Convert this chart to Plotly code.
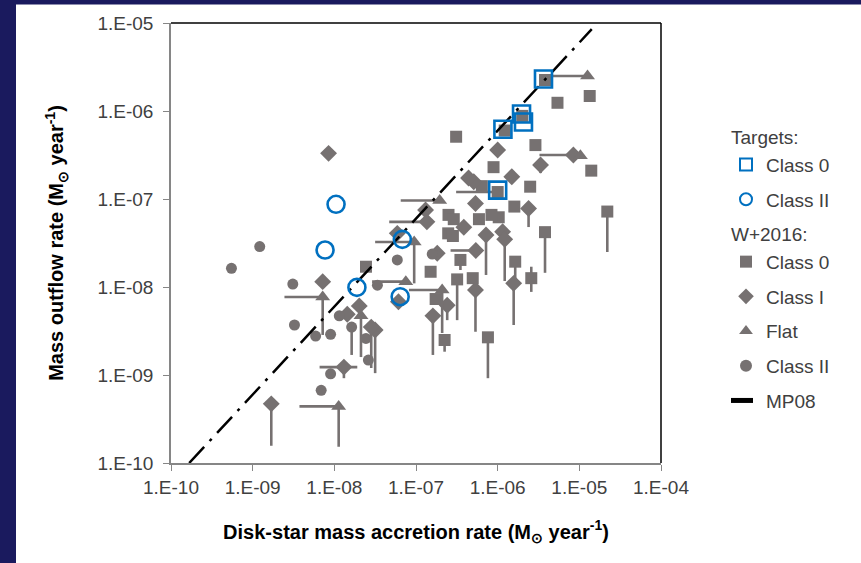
import plotly.graph_objects as go

GREY = "#767171"
BLUE = "#0070C0"
NAVY = "#1a1a5e"
FONT = "Liberation Sans, Arial, sans-serif"

# ---------------- data ----------------
tick_vals_x = [1e-10, 1e-9, 1e-8, 1e-7, 1e-6, 1e-5, 1e-4]
tick_text_x = ["1.E-10", "1.E-09", "1.E-08", "1.E-07", "1.E-06", "1.E-05", "1.E-04"]
tick_vals_y = [1e-10, 1e-9, 1e-8, 1e-7, 1e-6, 1e-5]
tick_text_y = ["1.E-10", "1.E-09", "1.E-08", "1.E-07", "1.E-06", "1.E-05"]

# Targets
tgt_c0_x = [3.64e-6, 1.96e-6, 2.07e-6, 1.16e-6, 1.0e-6]
tgt_c0_y = [2.31e-6, 9.25e-7, 7.5e-7, 6.2e-7, 1.26e-7]
tgt_c2_x = [1.05e-8, 7.7e-9, 1.89e-8, 6.8e-8, 6.4e-8]
tgt_c2_y = [8.7e-8, 2.63e-8, 9.9e-9, 3.48e-8, 7.76e-9]

# W+2016 Class 0
w_c0_x = [3.8e-6, 1.34e-5, 5.4e-6, 2.0e-6, 1.22e-6, 3.1e-7, 2.9e-6, 1.4e-5, 8.9e-7, 2.5e-6,
          1.0e-6, 1.6e-6, 2.2e-5, 1.03e-6, 8.4e-7, 5.9e-7, 2.5e-7, 2.9e-7, 2.48e-7, 2.83e-7,
          3.8e-6, 1.64e-6, 2.58e-6, 3.5e-7, 1.51e-7, 3.19e-7, 4.95e-7, 1.74e-7, 2.24e-7, 7.6e-7,
          2.44e-8, 6.4e-7]
w_c0_y = [2.25e-6, 1.48e-6, 1.24e-6, 8.8e-7, 6.0e-7, 5.1e-7, 4.1e-7, 2.1e-7, 2.3e-7, 1.38e-7,
          1.2e-7, 8.2e-8, 7.2e-8, 6.2e-8, 6.6e-8, 5.9e-8, 6.6e-8, 5.9e-8, 4.07e-8, 3.8e-8,
          4.2e-8, 1.94e-8, 1.26e-8, 2.03e-8, 1.49e-8, 1.22e-8, 1.26e-8, 7.3e-9, 2.5e-9, 2.68e-9,
          1.7e-8, 1.4e-7]
w_c0_xlow = [None] * 10 + [3.1e-7] + [None] * 21
w_c0_ylow = [None, None, None, None, None, None, None, None, None, None,
             None, None, 2.5e-8, None, None, None, None, None, None, None,
             1.45e-8, 1.1e-8, 8.8e-9, 1.56e-8, None, 4.2e-9, None, None, 1.84e-9, 9.2e-10,
             None, None]
w_c0_yhigh = [None] * 22 + [1.7e-8] + [None] * 9

# W+2016 Class I
w_c1_x = [8.5e-9, 1.0e-6, 8.45e-6, 3.35e-6, 1.49e-6, 5.1e-7, 4.4e-7, 2.39e-6, 5.35e-7, 1.31e-7,
          1.36e-7, 3.85e-7, 1.15e-6, 1.22e-6, 7.2e-7, 5.4e-7, 1.82e-7, 1.57e-6, 5.35e-7, 2.41e-7,
          1.61e-7, 5.9e-8, 6.1e-8, 7.2e-9, 2.02e-8, 1.44e-8, 3.16e-8, 2.83e-8, 1.31e-8, 1.69e-9]
w_c1_y = [3.3e-7, 3.6e-7, 3.16e-7, 2.43e-7, 1.79e-7, 1.57e-7, 1.73e-7, 7.8e-8, 8.9e-8, 7.5e-8,
          5.5e-8, 4.77e-8, 4.25e-8, 3.48e-8, 3.9e-8, 2.6e-8, 2.42e-8, 1.1e-8, 9.25e-9, 6.2e-9,
          4.7e-9, 4.07e-8, 6.8e-9, 1.15e-8, 6.1e-9, 4.9e-9, 3.25e-9, 3.5e-9, 1.23e-9, 4.7e-10]
w_c1_xlow = [None, None, 3.25e-6, None, None, None, None, None, None, None,
             4.7e-8, None, None, None, None, 2.65e-7, None, None, None, None,
             None, None, None, None, None, None, None, None, 6.6e-9, None]
w_c1_xhigh = [None] * 28 + [1.91e-8, None]
w_c1_ylow = [None, None, None, 1.97e-7, None, None, None, 4.8e-8, None, None,
             None, None, None, 1.17e-8, 1.37e-8, None, None, 3.7e-9, 3.1e-9, 4.2e-9,
             1.69e-9, None, None, None, None, None, 1.05e-9, 1.2e-9, 9.2e-10, 1.57e-10]

# W+2016 Flat
w_fl_x = [1.26e-5, 1.03e-5, 1.95e-7, 9.5e-8, 7.5e-8, 2.09e-7, 7.2e-9, 2.12e-8, 1.13e-8]
w_fl_y = [2.5e-6, 3.1e-7, 9.6e-8, 3.25e-8, 1.15e-8, 9.25e-9, 7.7e-9, 4.7e-9, 4.4e-10]
w_fl_xlow = [4.6e-6, None, 6.5e-8, 3.16e-8, 2.9e-8, 8.2e-8, 2.45e-9, None, 3.74e-9]
w_fl_ylow = [None, None, None, 1.1e-8, None, 3.0e-9, 2.85e-9, 1.6e-9, 1.53e-10]

# W+2016 Class II
w_c2_x = [5.5e-10, 1.22e-9, 3.1e-9, 5.9e-8, 3.37e-8, 3.25e-9, 5.9e-9, 9.0e-9, 1.63e-8, 2.44e-8,
          2.61e-8, 9.0e-9, 6.9e-9, 1.15e-8, 1.58e-7]
w_c2_y = [1.63e-8, 2.88e-8, 1.08e-8, 2.03e-8, 1.05e-8, 3.7e-9, 2.77e-9, 2.9e-9, 3.5e-9, 2.6e-9,
          1.48e-9, 1.03e-9, 6.7e-10, 4.7e-9, 2.37e-8]
w_c2_ylow = [None] * 8 + [1.69e-9] + [None] * 6

# MP08 relation
mp08_x = [1.67e-10, 1.42e-5]
mp08_y = [1.0e-10, 8.5e-6]


def diff_minus(vals, lows):
    return [v - l if l is not None else 0 for v, l in zip(vals, lows)]


def diff_plus(vals, highs):
    return [h - v if h is not None else 0 for v, h in zip(vals, highs)]


def err(plus, minus):
    return dict(type="data", symmetric=False, array=plus, arrayminus=minus,
                color=GREY, thickness=2.6, width=0, visible=True)


fig = go.Figure()

none = lambda n: [None] * n

grey_series = [
    ("Class 0", "square", 12, w_c0_x, w_c0_y, w_c0_xlow, none(len(w_c0_x)), w_c0_ylow, w_c0_yhigh, "w0", "W+2016:", 4),
    ("Class I", "diamond", 13, w_c1_x, w_c1_y, w_c1_xlow, w_c1_xhigh, w_c1_ylow, none(len(w_c1_x)), "w1", None, 5),
    ("Flat", "triangle-up", 13, w_fl_x, w_fl_y, w_fl_xlow, none(len(w_fl_x)), w_fl_ylow, none(len(w_fl_x)), "w2", None, 6),
    ("Class II", "circle", 11, w_c2_x, w_c2_y, none(len(w_c2_x)), none(len(w_c2_x)), w_c2_ylow, none(len(w_c2_x)), "w3", None, 7),
]

for name, sym, size, xs, ys, xlo, xhi, ylo, yhi, grp, title, rank in grey_series:
    tr = go.Scatter(
        x=xs, y=ys, mode="markers", name=name,
        marker=dict(symbol=sym, size=size, color=GREY),
        error_x=err(diff_plus(xs, xhi), diff_minus(xs, xlo)),
        error_y=err(diff_plus(ys, yhi), diff_minus(ys, ylo)),
        legendgroup=grp, legendrank=rank,
    )
    if title:
        tr.legendgrouptitle = dict(text=title)
    fig.add_trace(tr)

fig.add_trace(go.Scatter(
    x=mp08_x, y=mp08_y, mode="lines", name="MP08",
    line=dict(color="black", width=2.5, dash="22px,8px,3px,8px"),
    legendgroup="mp", legendrank=8,
))

fig.add_trace(go.Scatter(
    x=tgt_c0_x, y=tgt_c0_y, mode="markers", name="Class 0",
    marker=dict(symbol="square-open", size=17, color=BLUE, line=dict(width=2.6, color=BLUE)),
    legendgroup="t0", legendgrouptitle=dict(text="Targets:"), legendrank=1,
))
fig.add_trace(go.Scatter(
    x=tgt_c2_x, y=tgt_c2_y, mode="markers", name="Class II",
    marker=dict(symbol="circle-open", size=17, color=BLUE, line=dict(width=2.6, color=BLUE)),
    legendgroup="t2", legendrank=2,
))

# plot area in pixels: x 171..661, y 23..463
L, R, T, B = 171, 661, 23, 463
W, H = 861, 563


def px_x(p):
    return (p - L) / (R - L)


def px_y(p):
    return (B - p) / (B - T)


shapes = [
    # navy frame (left and top strips)
    dict(type="rect", xref="paper", yref="paper", x0=px_x(0), x1=px_x(16), y0=px_y(W), y1=px_y(0),
         fillcolor=NAVY, line=dict(width=0), layer="below"),
    dict(type="rect", xref="paper", yref="paper", x0=px_x(0), x1=px_x(W + 5), y0=px_y(4.5), y1=px_y(-5),
         fillcolor=NAVY, line=dict(width=0), layer="below"),
    # plot border top & right
    dict(type="line", xref="paper", yref="paper", x0=0, x1=1, y0=1, y1=1, line=dict(color="black", width=1.5)),
    dict(type="line", xref="paper", yref="paper", x0=1, x1=1, y0=0, y1=1, line=dict(color="black", width=1.5)),
]

axis_common = dict(
    type="log", showgrid=False, zeroline=False, showline=True, linecolor="#868686", linewidth=1.5,
    ticks="outside", ticklen=6, tickwidth=1.2, tickcolor="#868686",
    tickfont=dict(family=FONT, size=19, color="#404040"),
)

fig.update_layout(
    width=W, height=H,
    margin=dict(l=L, r=W - R, t=T, b=H - B, pad=0),
    paper_bgcolor="white", plot_bgcolor="white",
    font=dict(family=FONT, size=19, color="#404040"),
    xaxis=dict(axis_common, range=[-10, -4], tickvals=tick_vals_x, ticktext=tick_text_x,
               title=dict(text="<b>Disk-star mass accretion rate (M<sub>\u2299</sub> year<sup>-1</sup>)</b>",
                          font=dict(family=FONT, size=20, color="black"), standoff=28)),
    yaxis=dict(axis_common, range=[-10, -5], tickvals=tick_vals_y, ticktext=tick_text_y,
               ticklabelstandoff=6,
               title=dict(text="<b>Mass outflow rate (M<sub>\u2299</sub> year<sup>-1</sup>)</b>",
                          font=dict(family=FONT, size=20, color="black"), standoff=28)),
    legend=dict(x=px_x(726), xanchor="left", y=px_y(118), yanchor="top",
                font=dict(family=FONT, size=19, color="#404040"),
                itemsizing="constant", tracegroupgap=7, bgcolor="rgba(0,0,0,0)",
                grouptitlefont=dict(family=FONT, size=19, color="#404040")),
    shapes=shapes,
    showlegend=True,
)

fig.write_html("out.html")
